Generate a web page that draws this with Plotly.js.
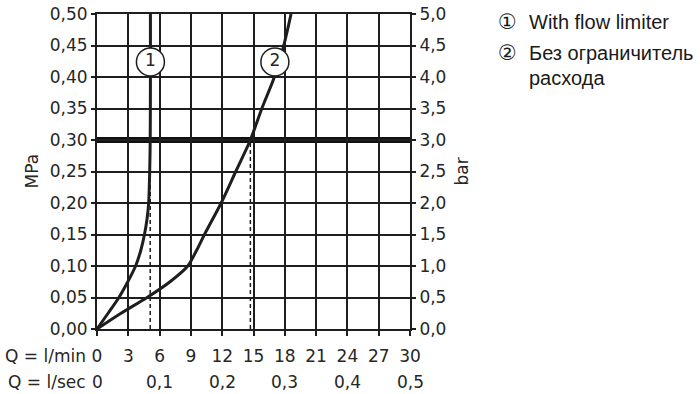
<!DOCTYPE html>
<html>
<head>
<meta charset="utf-8">
<script src="https://cdn.plot.ly/plotly-3.0.1.min.js"></script>
<style>html,body{margin:0;padding:0;background:#fff;}#chart{width:700px;height:394px;}</style>
</head>
<body>
<div id="chart"></div>
<script>
// Curve 1: with flow limiter (x = l/min, y = MPa)
const curve1X = [0, 1.06, 2.1, 2.95, 3.7, 4.2, 4.55, 4.8, 4.95, 5.05, 5.1, 5.12, 5.12];
const curve1Y = [0, 0.025, 0.05, 0.075, 0.10, 0.125, 0.15, 0.175, 0.20, 0.25, 0.30, 0.40, 0.50];
// Curve 2: without flow limiter
const curve2X = [0, 2.3, 4.8, 7.0, 8.7, 9.55, 10.3, 11.9, 13.3, 14.7, 15.8, 17.0, 17.9, 18.6];
const curve2Y = [0, 0.025, 0.05, 0.075, 0.10, 0.125, 0.15, 0.20, 0.25, 0.30, 0.35, 0.40, 0.45, 0.50];
// Operating pressure and the flows read at it
const refPressure = 0.30;
const refFlows = [5.1, 14.7];
// Curve labels
const labelX = [5.12, 17.05];
const labelY = [0.424, 0.424];
const labelText = ['1', '2'];
// Axis ticks
const lminTicks = [0, 3, 6, 9, 12, 15, 18, 21, 24, 27, 30];
const lsecTicks = [0, 0.1, 0.2, 0.3, 0.4, 0.5];
const lsecText = ['0', '0,1', '0,2', '0,3', '0,4', '0,5'];
// Legend
const legendSymbols = ['\u2460', '\u2461'];
const legendLines = [['With flow limiter'], ['Без ограничитель', 'расхода']];

const ink = '#1e1e1e';
const txt = '#262626';
const tf = {family: 'DejaVu Sans', size: 17, color: txt};

const traces = [
  {x: curve1X, y: curve1Y, mode: 'lines', line: {color: ink, width: 3, shape: 'spline', smoothing: 0.8}, hoverinfo: 'skip'},
  {x: curve2X, y: curve2Y, mode: 'lines', line: {color: ink, width: 3, shape: 'spline', smoothing: 0.8}, hoverinfo: 'skip'},
  {x: labelX, y: labelY, mode: 'markers+text', text: labelText, textposition: 'middle center',
   textfont: {family: 'DejaVu Sans', size: 17, color: txt},
   marker: {size: 28, color: '#fff', line: {color: ink, width: 1.5}}, hoverinfo: 'skip'},
  {x: [0], y: [0], yaxis: 'y2', mode: 'markers', marker: {opacity: 0}, hoverinfo: 'skip'}
];

const shapes = [];
refFlows.forEach(f => shapes.push({type: 'line', xref: 'x', yref: 'y', x0: f, x1: f, y0: 0, y1: refPressure,
  line: {color: ink, width: 1.5, dash: '4px,3px'}, layer: 'above'}));
shapes.push({type: 'line', xref: 'paper', yref: 'y', x0: 0, x1: 1, y0: refPressure, y1: refPressure,
  line: {color: '#111', width: 6}, layer: 'below'});

const annotations = [];
annotations.push({xref: 'x', yref: 'paper', x: 0, y: 0, xanchor: 'right', yanchor: 'middle', xshift: -9, yshift: -27,
  text: 'Q = l/min', showarrow: false, font: tf});
annotations.push({xref: 'x', yref: 'paper', x: 0, y: 0, xanchor: 'right', yanchor: 'middle', xshift: -9, yshift: -53,
  text: 'Q = l/sec', showarrow: false, font: tf});
lsecTicks.forEach((v, i) => annotations.push({xref: 'x', yref: 'paper', x: v * 60, y: 0, xanchor: 'center', yanchor: 'middle',
  yshift: -53, text: lsecText[i], showarrow: false, font: tf}));
annotations.push({xref: 'paper', yref: 'paper', x: 0, y: 0.5, xshift: -66, textangle: -90, text: 'MPa', showarrow: false,
  font: tf, xanchor: 'center', yanchor: 'middle'});
annotations.push({xref: 'paper', yref: 'paper', x: 1, y: 0.5, xshift: 51, textangle: -90, text: 'bar', showarrow: false,
  font: tf, xanchor: 'center', yanchor: 'middle'});
const legY = [[0.9756], [0.875, 0.797]];
const lf = {family: 'Liberation Sans', size: 20, color: '#1a1a1a'};
legendSymbols.forEach((s, i) => {
  annotations.push({xref: 'paper', yref: 'paper', x: 1.274, y: legY[i][0], xanchor: 'left', yanchor: 'middle',
    text: s, showarrow: false, font: {family: 'DejaVu Sans', size: 21, color: '#1a1a1a'}});
  legendLines[i].forEach((t, j) => annotations.push({xref: 'paper', yref: 'paper', x: 1.374, y: legY[i][j],
    xanchor: 'left', yanchor: 'middle', text: t, showarrow: false, font: lf}));
});

const layout = {
  width: 700, height: 394,
  margin: {l: 97, r: 290, t: 14, b: 65},
  paper_bgcolor: '#fff', plot_bgcolor: '#fff',
  separators: ', ',
  showlegend: false,
  xaxis: {range: [0, 30], tickvals: lminTicks, ticktext: lminTicks.map(String), showgrid: true, gridcolor: ink, gridwidth: 2,
    zeroline: false, showline: true, linecolor: ink, linewidth: 2, mirror: true,
    ticks: 'outside', ticklen: 5, tickwidth: 2, tickcolor: ink, tickfont: tf, ticklabelstandoff: 6, fixedrange: true},
  yaxis: {range: [0, 0.5], dtick: 0.05, tick0: 0, tickformat: '.2f', showgrid: true, gridcolor: ink, gridwidth: 2,
    zeroline: false, showline: true, linecolor: ink, linewidth: 2,
    ticks: 'outside', ticklen: 4, tickwidth: 2, tickcolor: ink, tickfont: tf, fixedrange: true},
  yaxis2: {range: [0, 5], dtick: 0.5, tick0: 0, tickformat: '.1f', overlaying: 'y', side: 'right', showgrid: false,
    zeroline: false, showline: true, linecolor: ink, linewidth: 2,
    ticks: 'outside', ticklen: 4, tickwidth: 2, tickcolor: ink, tickfont: tf, fixedrange: true},
  shapes: shapes,
  annotations: annotations
};

Plotly.newPlot('chart', traces, layout, {staticPlot: true, displayModeBar: false});
</script>
</body>
</html>
